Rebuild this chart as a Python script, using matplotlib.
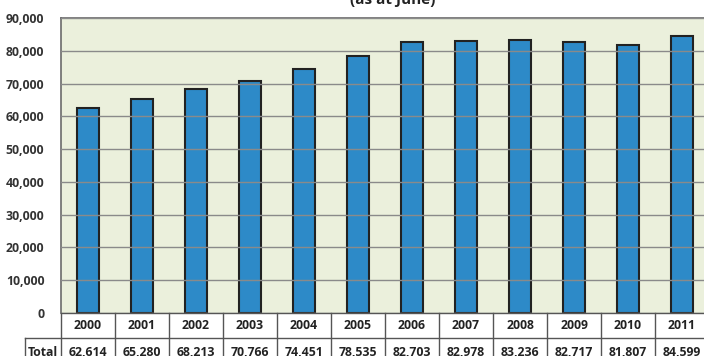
import matplotlib
matplotlib.use("Agg")
import matplotlib.pyplot as plt
import matplotlib.transforms as mtransforms
import numpy as np

years = ["2000", "2001", "2002", "2003", "2004", "2005",
         "2006", "2007", "2008", "2009", "2010", "2011"]
totals = [62614, 65280, 68213, 70766, 74451, 78535,
          82703, 82978, 83236, 82717, 81807, 84599]
yticks = list(range(0, 90001, 10000))

plt.rcParams['font.family'] = ['Open Sans', 'DejaVu Sans']

W, H = 704, 356
fig = plt.figure(figsize=(W / 100, H / 100), dpi=100)
fig.patch.set_facecolor("white")

# plot area in pixel terms (right edge runs a bit past the image)
left, right, top, bottom = 61, 709, 18, 313
ax = fig.add_axes([left / W, 1 - bottom / H, (right - left) / W, (bottom - top) / H])
ax.set_facecolor("#ebf0dc")

x = np.arange(len(years))
ax.bar(x, totals, width=0.4, color="#2d8ac8", edgecolor="#222222",
       linewidth=1.5, zorder=2)

ax.set_xlim(-0.5, len(years) - 0.5)
ax.set_ylim(0, 90000)
ax.set_yticks(yticks)
ax.set_yticklabels([f"{v:,}" for v in yticks])
ax.yaxis.grid(True, color="#8a8a8a", linewidth=1.0, zorder=3)
ax.set_axisbelow(False)
ax.tick_params(axis="y", length=0, pad=12, labelsize=8.8, labelcolor="#333333")
for lab in ax.get_yticklabels():
    lab.set_fontweight("bold")
ax.set_xticks([])

for s in ["left", "top", "right"]:
    ax.spines[s].set_color("#6b6b6b")
    ax.spines[s].set_linewidth(1.2)
ax.spines["bottom"].set_color("#555555")
ax.spines["bottom"].set_linewidth(1.0)

# title, mostly cropped at the top of the image
fig.text(393 / W, 1 - 4 / H, "(as at June)", ha="center", va="baseline",
         fontsize=11, fontweight="bold", color="#222222")

# data table below the axis
tr = mtransforms.blended_transform_factory(ax.transData, ax.transAxes)
ph = bottom - top
row1 = -25 / ph
row2 = -55 / ph
lc = "#555555"
for i in range(len(years) + 1):
    ax.plot([i - 0.5, i - 0.5], [0, row2], color=lc, lw=1.0,
            transform=tr, clip_on=False)
total_left = -0.5 - 36 / 54
ax.plot([total_left, len(years) - 0.5], [row1, row1], color=lc, lw=1.0,
        transform=tr, clip_on=False)
ax.plot([total_left, total_left], [row1, row2], color=lc, lw=1.0,
        transform=tr, clip_on=False)

for i, (yr, t) in enumerate(zip(years, totals)):
    ax.text(i, row1 / 2, yr, ha="center", va="center", fontsize=8.8,
            fontweight="bold", color="#222222", transform=tr, clip_on=False)
    ax.text(i, -40 / ph, f"{t:,}", ha="center", va="center", fontsize=8.8,
            fontweight="bold", color="#222222", transform=tr, clip_on=False)
ax.text((total_left - 0.5) / 2, -40 / ph, "Total", ha="center", va="center",
        fontsize=8.8, fontweight="bold", color="#222222", transform=tr, clip_on=False)

fig.savefig("out.png", dpi=100, facecolor="white")
